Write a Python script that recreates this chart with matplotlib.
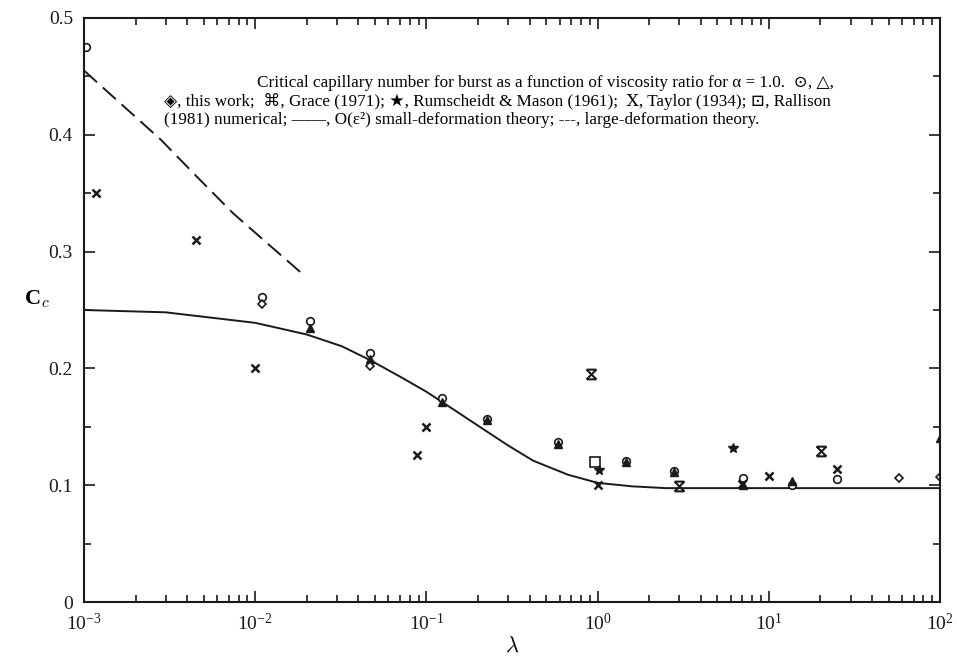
import numpy as np
import matplotlib
matplotlib.use("Agg")
import matplotlib.pyplot as plt
from matplotlib.path import Path
from matplotlib.ticker import FixedLocator, LogLocator, NullFormatter

plt.rcParams["font.family"] = ["Liberation Serif", "DejaVu Serif", "DejaVu Sans"]
plt.rcParams["mathtext.fontset"] = "cm"

# small-deformation theory O(eps^2)
small_lam = [1e-3, 3e-3, 1e-2, 2e-2, 3.2e-2, 4.7e-2, 7e-2, 0.1, 0.14, 0.2, 0.3, 0.42, 0.67, 1.0, 1.6, 2.5, 4.0, 10.0, 100.0]
small_cc = [0.250, 0.248, 0.239, 0.229, 0.219, 0.207, 0.193, 0.180, 0.166, 0.151, 0.134, 0.121, 0.109, 0.102, 0.099, 0.0975, 0.0975, 0.0975, 0.0975]

# large-deformation theory
large_lam = [1e-3, 1.6e-3, 2.8e-3, 4.5e-3, 7.4e-3, 1.2e-2, 1.85e-2]
large_cc = [0.455, 0.428, 0.396, 0.365, 0.333, 0.306, 0.282]

# this work
circ_lam = [1.03e-3, 1.1e-2, 2.1e-2, 4.7e-2, 0.124, 0.227, 0.59, 1.46, 2.78, 7.1, 13.6, 25.0]
circ_cc = [0.475, 0.261, 0.241, 0.213, 0.175, 0.157, 0.137, 0.121, 0.112, 0.106, 0.100, 0.105]
tri_lam = [2.1e-2, 4.7e-2, 0.124, 0.227, 0.59, 1.46, 2.78, 7.1, 13.6, 100.0]
tri_cc = [0.235, 0.208, 0.171, 0.156, 0.135, 0.120, 0.111, 0.100, 0.104, 0.140]
dia_lam = [1.1e-2, 4.7e-2, 57.5, 100.0]
dia_cc = [0.255, 0.202, 0.106, 0.107]

# Grace (1971)
grace_lam = [1.17e-3, 4.5e-3, 1e-2, 0.0885, 0.1, 1.0, 7.0, 10.0, 25.0]
grace_cc = [0.350, 0.310, 0.200, 0.126, 0.150, 0.100, 0.101, 0.108, 0.114]

# Rumscheidt & Mason (1961)
rum_lam = [1.02, 6.2]
rum_cc = [0.113, 0.132]

# Taylor (1934)
tay_lam = [0.91, 3.0, 20.1]
tay_cc = [0.195, 0.099, 0.129]

# Rallison (1981) numerical
ral_lam = [0.97]
ral_cc = [0.120]

y_ticks = [0, 0.1, 0.2, 0.3, 0.4, 0.5]
y_labels = ["0", "0.1", "0.2", "0.3", "0.4", "0.5"]

caption = [
    "Critical capillary number for burst as a function of viscosity ratio for \u03b1 = 1.0.  \u2299, \u25b3,",
    "\u25c8, this work;  \u2318, Grace (1971); \u2605, Rumscheidt & Mason (1961);  \u2169, Taylor (1934); \u22a1, Rallison",
    "(1981) numerical; \u2014\u2014, O(\u03b5\u00b2) small-deformation theory; ---, large-deformation theory.",
]

taylor_marker = Path(
    [(-1, 1), (1, -1), (-1, -1), (1, 1), (-1, 1), (1, 1), (-1, -1), (1, -1)],
    [Path.MOVETO, Path.LINETO, Path.MOVETO, Path.LINETO,
     Path.MOVETO, Path.LINETO, Path.MOVETO, Path.LINETO],
)

ink = "#1a1a1a"

fig = plt.figure(figsize=(9.57, 6.56), dpi=100)
ax = fig.add_axes([0.0878, 0.0823, 0.8945, 0.8903])

ax.plot(small_lam, small_cc, color=ink, lw=1.4)
ax.plot(large_lam, large_cc, color=ink, lw=1.4, dashes=(9, 4))

ax.plot(circ_lam, circ_cc, "o", ms=5.5, mfc="white", mec=ink, mew=1.2, ls="none")
ax.plot(tri_lam, tri_cc, "^", ms=5.5, mfc=ink, mec=ink, ls="none")
ax.plot(dia_lam, dia_cc, "D", ms=4.5, mfc="white", mec=ink, mew=1.2, ls="none")
ax.plot(grace_lam, grace_cc, "x", ms=5.5, mec=ink, mew=1.8, ls="none")
ax.plot(rum_lam, rum_cc, "*", ms=7, color=ink, ls="none")
ax.plot(tay_lam, tay_cc, marker=taylor_marker, ms=7, mec=ink, mew=1.5, ls="none")
ax.plot(ral_lam, ral_cc, "s", ms=7.5, mfc="none", mec=ink, mew=1.2, ls="none")

ax.set_xscale("log")
ax.set_xlim(1e-3, 1e2)
ax.set_ylim(0, 0.5)
ax.xaxis.set_major_locator(LogLocator(base=10, numticks=10))
ax.xaxis.set_minor_locator(LogLocator(base=10, subs=np.arange(2, 10), numticks=20))
ax.xaxis.set_minor_formatter(NullFormatter())
ax.yaxis.set_major_locator(FixedLocator(y_ticks))
ax.set_yticklabels(y_labels)
ax.yaxis.set_minor_locator(FixedLocator([0.05, 0.15, 0.25, 0.35, 0.45]))

ax.tick_params(which="both", direction="in", top=True, right=True, width=1.2, colors=ink)
ax.tick_params(which="major", length=8, labelsize=14, pad=8)
ax.tick_params(which="minor", length=5)
for s in ax.spines.values():
    s.set_linewidth(1.5)
    s.set_color(ink)

ax.set_ylabel("C$_c$", fontsize=16, rotation=0, fontweight="bold")
ax.yaxis.set_label_coords(-0.055, 0.5)
ax.set_xlabel("$\\lambda$", fontsize=16, labelpad=2)

ax.text(0.8765, 0.888, caption[0], transform=ax.transAxes, ha="right", va="center", fontsize=12.3)
ax.text(0.0935, 0.857, caption[1], transform=ax.transAxes, ha="left", va="center", fontsize=12.3)
ax.text(0.0935, 0.826, caption[2], transform=ax.transAxes, ha="left", va="center", fontsize=12.3)

fig.savefig("out.png", dpi=100)
